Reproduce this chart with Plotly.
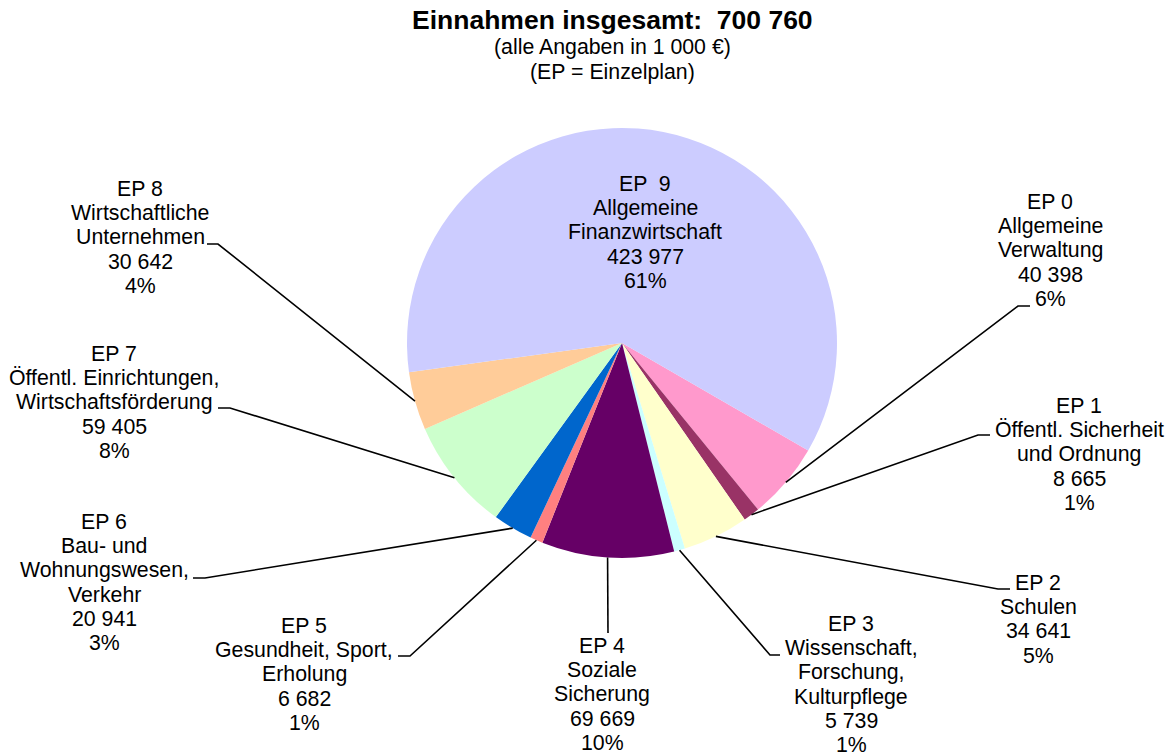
import math

import plotly.graph_objects as go

W, H = 1171, 756
FONT = "Liberation Sans, Arial, sans-serif"

CODES = ["EP 0", "EP 1", "EP 2", "EP 3", "EP 4", "EP 5", "EP 6", "EP 7", "EP 8", "EP  9"]
NAMES = [
    ["Allgemeine", "Verwaltung"],
    ["Öffentl. Sicherheit", "und Ordnung"],
    ["Schulen"],
    ["Wissenschaft,", "Forschung,", "Kulturpflege"],
    ["Soziale", "Sicherung"],
    ["Gesundheit, Sport,", "Erholung"],
    ["Bau- und", "Wohnungswesen,", "Verkehr"],
    ["Öffentl. Einrichtungen,", "Wirtschaftsförderung"],
    ["Wirtschaftliche", "Unternehmen"],
    ["Allgemeine", "Finanzwirtschaft"],
]
VALUES = [40398, 8665, 34641, 5739, 69669, 6682, 20941, 59405, 30642, 423977]
COLORS = ["#FF99CC", "#993366", "#FFFFCC", "#CCFFFF", "#660066",
          "#FF8080", "#0066CC", "#CCFFCC", "#FFCC99", "#CCCCFF"]
TOTAL_TEXT = "700 760"
SUBTITLES = ["(alle Angaben in 1 000 €)", "(EP = Einzelplan)"]

# layout (pixels): pie centre/radius, label centre x + first line y, leader elbow + end
CX, CY, R = 622, 343, 215
ROTATION = 120
LABEL_POS = [(1050, 202), (1079, 406), (1038, 583), (851, 624), (602, 646),
             (304, 626), (104, 522), (114, 354), (140, 189), (645, 184)]
ELBOWS = [((1018, 306), (1030, 306)), ((978, 435), (990, 435)), ((998, 589), (1010, 589)),
          ((770, 655), (780, 655)), ((608, 633), (608, 633)), ((410, 656), (398, 656)),
          ((205, 578), (193, 578)), ((230, 408), (218, 408)), ((218, 244), (207, 244)), None]
LINE_STEP = 24.2
LABEL_SIZE = 21.3


def px(x):
    return x / W


def py(y):
    return 1 - y / H


def fmt(v):
    return f"{v:,}".replace(",", " ")


total = sum(VALUES)

fig = go.Figure(
    go.Pie(
        labels=CODES,
        values=VALUES,
        marker=dict(colors=COLORS, line=dict(width=0)),
        sort=False,
        direction="clockwise",
        rotation=ROTATION,
        textinfo="none",
        hoverinfo="label+value+percent",
        domain=dict(x=[px(CX - R), px(CX + R)], y=[py(CY + R), py(CY - R)]),
        showlegend=False,
    )
)

annotations = []
shapes = []
angle = ROTATION
for i, v in enumerate(VALUES):
    span = v / total * 360
    mid = math.radians(angle + span / 2)
    angle += span
    lines = [CODES[i]] + NAMES[i] + [fmt(v), f"{round(v / total * 100)}%"]
    lx, ly = LABEL_POS[i]
    for k, text in enumerate(lines):
        annotations.append(dict(
            x=px(lx), y=py(ly + k * LINE_STEP), xref="paper", yref="paper",
            text=text, showarrow=False, xanchor="center", yanchor="middle",
            font=dict(family=FONT, size=LABEL_SIZE, color="black"),
        ))
    if ELBOWS[i] is not None:
        sx = CX + R * math.sin(mid)
        sy = CY - R * math.cos(mid)
        (ex, ey), (tx, ty) = ELBOWS[i]
        shapes.append(dict(
            type="path", xref="paper", yref="paper",
            path=f"M {px(sx)},{py(sy)} L {px(ex)},{py(ey)} L {px(tx)},{py(ty)}",
            line=dict(color="black", width=1.6),
        ))

annotations.append(dict(
    x=px(612), y=py(20), xref="paper", yref="paper", showarrow=False,
    text=f"<b>Einnahmen insgesamt:\u00a0 {TOTAL_TEXT}</b>", xanchor="center", yanchor="middle",
    font=dict(family=FONT, size=26.5, color="black"),
))
for k, text in enumerate(SUBTITLES):
    annotations.append(dict(
        x=px(612), y=py(47 + k * 25), xref="paper", yref="paper", showarrow=False,
        text=text, xanchor="center", yanchor="middle",
        font=dict(family=FONT, size=LABEL_SIZE, color="black"),
    ))

fig.update_layout(
    width=W,
    height=H,
    margin=dict(l=0, r=0, t=0, b=0),
    paper_bgcolor="white",
    plot_bgcolor="white",
    annotations=annotations,
    shapes=shapes,
)

fig.write_html(
    "out.html",
    config={"displayModeBar": False},
    post_script="document.body.style.margin='0';",
)
